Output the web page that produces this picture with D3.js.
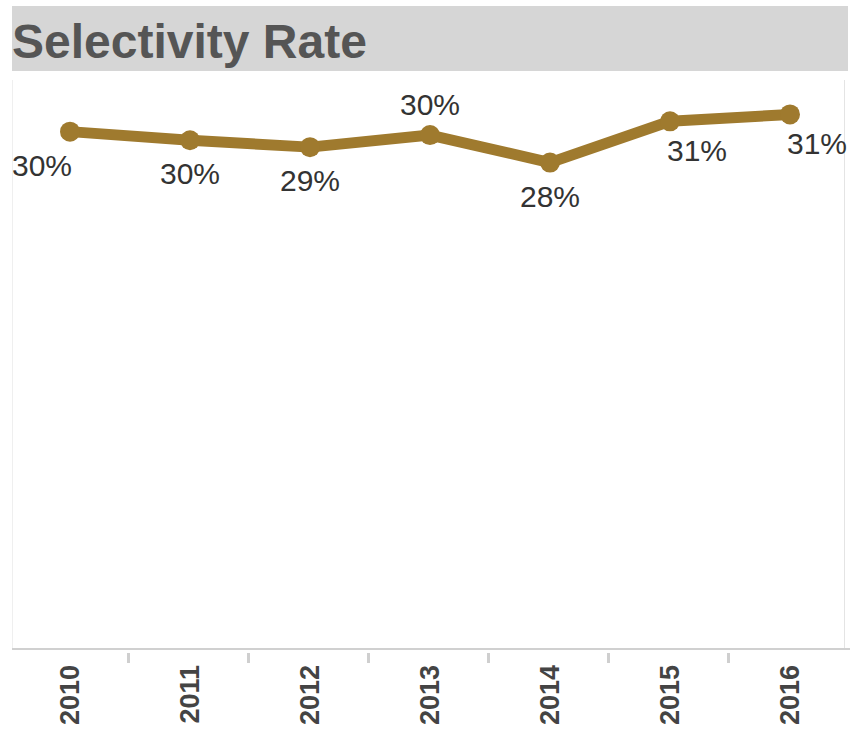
<!DOCTYPE html>
<html>
<head>
<meta charset="utf-8">
<script src="https://cdnjs.cloudflare.com/ajax/libs/d3/7.8.5/d3.min.js"></script>
<style>
  body { margin: 0; background: #fff; }
  text { font-family: "Liberation Sans", Arial, sans-serif; }
</style>
</head>
<body>
<svg id="chart"></svg>
<script>
// Data
var years = ["2010", "2011", "2012", "2013", "2014", "2015", "2016"];
var rates = [0.300, 0.295, 0.291, 0.298, 0.282, 0.306, 0.310];
// where Tableau put each mark label
var labelPlace = ["belowLeft", "below", "below", "above", "below", "belowRight", "belowRight"];

var width = 850, height = 734;
var lineColor = "#9f7a2e";

var svg = d3.select("#chart")
    .attr("width", width)
    .attr("height", height);

// Title bar
svg.append("rect")
    .attr("x", 12)
    .attr("y", 6)
    .attr("width", 836)
    .attr("height", 65)
    .attr("fill", "#d6d6d6");

svg.append("text")
    .attr("x", 12)
    .attr("y", 58)
    .style("font-size", "48px")
    .style("font-weight", "bold")
    .attr("fill", "#555")
    .text("Selectivity Rate");

// Scales
var xScale = d3.scaleBand()
    .domain(years)
    .range([10, 850]);

var yScale = d3.scaleLinear()
    .domain([0, 0.33])
    .range([648, 80]);

// Pane borders
svg.append("line")
    .attr("x1", 12.5).attr("x2", 12.5)
    .attr("y1", 80).attr("y2", 648)
    .attr("stroke", "#efefef");

svg.append("line")
    .attr("x1", 844.5).attr("x2", 844.5)
    .attr("y1", 80).attr("y2", 648)
    .attr("stroke", "#e4e4e4");

// x-axis line
svg.append("line")
    .attr("x1", 12).attr("x2", 850)
    .attr("y1", yScale(0) + 1).attr("y2", yScale(0) + 1)
    .attr("stroke", "#d0d0d0")
    .attr("stroke-width", 2);

// band separators
svg.selectAll(".sep")
    .data(years.slice(1))
    .enter().append("rect")
    .attr("class", "sep")
    .attr("x", function (d) { return xScale(d) - 3; })
    .attr("y", 653)
    .attr("width", 3)
    .attr("height", 10)
    .attr("fill", "#cfcfcf");

// year labels
svg.selectAll(".year")
    .data(years)
    .enter().append("text")
    .attr("class", "year")
    .attr("transform", function (d) {
        return "translate(" + (xScale(d) + xScale.bandwidth() / 2) + ",665) rotate(-90)";
    })
    .attr("text-anchor", "end")
    .attr("dominant-baseline", "central")
    .style("font-size", "27px")
    .style("font-weight", "bold")
    .attr("fill", "#444")
    .text(function (d) { return d; });

// Draw line
var pts = years.map(function (y, i) {
    return { year: y, value: rates[i], place: labelPlace[i] };
});

var cx = function (d) { return xScale(d.year) + xScale.bandwidth() / 2; };

svg.append("path")
    .datum(pts)
    .attr("fill", "none")
    .attr("stroke", lineColor)
    .attr("stroke-width", 11)
    .attr("stroke-linejoin", "round")
    .attr("d", d3.line()
        .x(cx)
        .y(function (d) { return yScale(d.value); })
    );

svg.selectAll(".dot")
    .data(pts)
    .enter().append("circle")
    .attr("class", "dot")
    .attr("cx", cx)
    .attr("cy", function (d) { return yScale(d.value); })
    .attr("r", 10)
    .attr("fill", lineColor);

// mark labels
svg.selectAll(".lbl")
    .data(pts)
    .enter().append("text")
    .attr("class", "lbl")
    .attr("x", function (d) {
        if (d.place == "belowLeft") return cx(d) + 2;
        if (d.place == "belowRight") return cx(d) - 3;
        return cx(d);
    })
    .attr("y", function (d) {
        if (d.place == "above") return yScale(d.value) - 20;
        if (d.place == "belowRight") return yScale(d.value) + 40;
        return yScale(d.value) + 44;
    })
    .attr("text-anchor", function (d) {
        if (d.place == "belowLeft") return "end";
        if (d.place == "belowRight") return "start";
        return "middle";
    })
    .style("font-size", "30px")
    .attr("fill", "#333")
    .text(function (d) { return d3.format(".0%")(d.value); });
</script>
</body>
</html>
